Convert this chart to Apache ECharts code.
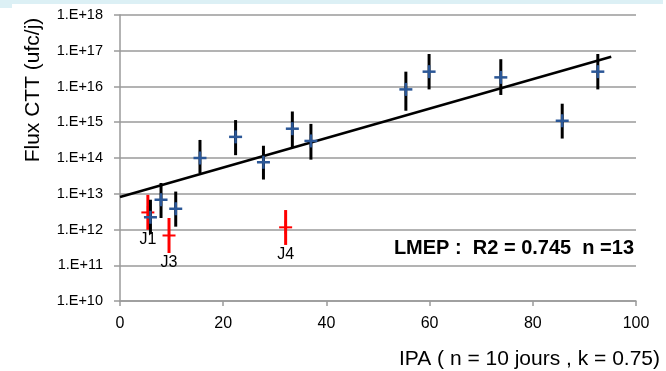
<!DOCTYPE html>
<html>
<head>
<meta charset="utf-8">
<script src="https://cdn.jsdelivr.net/npm/echarts@6/dist/echarts.min.js"></script>
<style>
    html, body { margin: 0; padding: 0; background: #ffffff; }
    #chart { width: 666px; height: 371px; }
</style>
</head>
<body>
<div id="chart"></div>
<script>
// LMEP points (blue) : IPA, flux, low / high of the error bar
const ipa = [5.9, 7.95, 10.8, 15.5, 22.4, 27.8, 33.4, 37.0, 55.4, 59.9, 73.8, 85.7, 92.6];
const flux = [2.2e12, 6.8e12, 3.8e12, 1.0e14, 3.9e14, 7.6e13, 6.6e14, 3.0e14, 8.3e15, 2.6e16, 1.8e16, 1.1e15, 2.6e16];
const fluxLow = [7.5e11, 2.1e12, 1.2e12, 3.8e13, 1.2e14, 2.5e13, 2.0e14, 9.0e13, 2.1e15, 8.3e15, 5.8e15, 3.5e14, 8.3e15];
const fluxHigh = [6.8e12, 2.0e13, 1.15e13, 3.2e14, 1.15e15, 2.2e14, 2.0e15, 9.0e14, 2.6e16, 8.1e16, 5.8e16, 3.3e15, 8.1e16];

// excluded points (red)
const outNames = ["J1", "J3", "J4"];
const outIpa = [5.4, 9.5, 32.1];
const outFlux = [3.0e12, 6.8e11, 1.15e12];
const outLow = [9.8e11, 2.2e11, 3.7e11];
const outHigh = [9.3e12, 2.1e12, 3.5e12];

// exponential trend line
const trendX = [0, 95.2];
const trendY = [8.1e12, 6.8e16];

const FONT = "Liberation Sans";

const chart = echarts.init(document.getElementById("chart"));

function crossRenderer(markColor, barColor, markWidth, names) {
    return function (params, api) {
        const x = api.value(0);
        const p = api.coord([x, api.value(1)]);
        const pLow = api.coord([x, api.value(2)]);
        const pHigh = api.coord([x, api.value(3)]);
        const arm = 6.5;

        const children = [
            {
                type: "line",
                shape: { x1: pLow[0], y1: pLow[1], x2: pHigh[0], y2: pHigh[1] },
                style: { stroke: barColor, lineWidth: 3 }
            },
            {
                type: "line",
                shape: { x1: p[0] - arm, y1: p[1], x2: p[0] + arm, y2: p[1] },
                style: { stroke: markColor, lineWidth: markWidth }
            },
            {
                type: "line",
                shape: { x1: p[0], y1: p[1] - arm, x2: p[0], y2: p[1] + arm },
                style: { stroke: markColor, lineWidth: markWidth }
            }
        ];

        if (names) {
            children.push({
                type: "text",
                x: p[0],
                y: p[1] + 27,
                style: {
                    text: names[params.dataIndex],
                    font: "16px " + FONT,
                    fill: "#000000",
                    align: "center",
                    verticalAlign: "middle",
                    textAlign: "center",
                    textVerticalAlign: "middle"
                }
            });
        }

        return { type: "group", children: children };
    };
}

const blueData = ipa.map((x, i) => [x, flux[i], fluxLow[i], fluxHigh[i]]);
const redData = outIpa.map((x, i) => [x, outFlux[i], outLow[i], outHigh[i]]);
const trendData = trendX.map((x, i) => [x, trendY[i]]);

chart.setOption({
    animation: false,
    backgroundColor: "#ffffff",
    grid: {
        left: 120,
        right: 30,
        top: 15,
        bottom: 70
    },
    xAxis: {
        type: "value",
        min: 0,
        max: 100,
        interval: 20,
        splitLine: { show: false },
        axisLine: { lineStyle: { color: "#9a9a9a", width: 1.5 } },
        axisTick: { length: 5, lineStyle: { color: "#9a9a9a", width: 1.5 } },
        axisLabel: {
            margin: 15,
            color: "#000000",
            fontFamily: FONT,
            fontSize: 16
        }
    },
    yAxis: {
        type: "log",
        logBase: 10,
        min: 1e10,
        max: 1e18,
        interval: 1,
        axisLine: { show: true, lineStyle: { color: "#9a9a9a", width: 1.5 } },
        axisTick: { show: true, length: 6, lineStyle: { color: "#9a9a9a", width: 1.5 } },
        splitLine: { show: true, lineStyle: { color: "#9a9a9a", width: 1.5 } },
        axisLabel: {
            margin: 17,
            color: "#000000",
            fontFamily: FONT,
            fontSize: 14.5,
            formatter: value => "1.E+" + Math.round(Math.log10(value))
        }
    },
    graphic: [
        { type: "rect", shape: { x: 0, y: 0, width: 663, height: 4 }, style: { fill: "#dcf0f5" } },
        { type: "rect", shape: { x: 0, y: 0, width: 12, height: 8 }, style: { fill: "#dcf0f5" } },
        {
            type: "text",
            x: 33,
            y: 90,
            rotation: Math.PI / 2,
            style: {
                text: "Flux CTT (ufc/j)",
                font: "21px " + FONT,
                fill: "#000000",
                align: "center",
                verticalAlign: "middle",
                textAlign: "center",
                textVerticalAlign: "middle"
            }
        },
        {
            type: "text",
            x: 660,
            y: 359,
            style: {
                text: "IPA ( n = 10 jours , k = 0.75)",
                font: "21px " + FONT,
                fill: "#000000",
                align: "right",
                verticalAlign: "middle",
                textAlign: "right",
                textVerticalAlign: "middle"
            }
        },
        {
            type: "text",
            x: 634,
            y: 248,
            style: {
                text: "LMEP :  R2 = 0.745  n =13",
                font: "bold 20px " + FONT,
                fill: "#000000",
                align: "right",
                verticalAlign: "middle",
                textAlign: "right",
                textVerticalAlign: "middle"
            }
        }
    ],
    series: [
        {
            name: "trend",
            type: "line",
            data: trendData,
            symbol: "none",
            z: 1,
            lineStyle: { color: "#000000", width: 2.5 }
        },
        {
            name: "excluded",
            type: "custom",
            z: 2,
            data: redData,
            renderItem: crossRenderer("#ff0000", "#ff0000", 2, outNames)
        },
        {
            name: "LMEP",
            type: "custom",
            z: 3,
            data: blueData,
            renderItem: crossRenderer("#2b5797", "#000000", 2.5, null)
        }
    ]
});
</script>
</body>
</html>
